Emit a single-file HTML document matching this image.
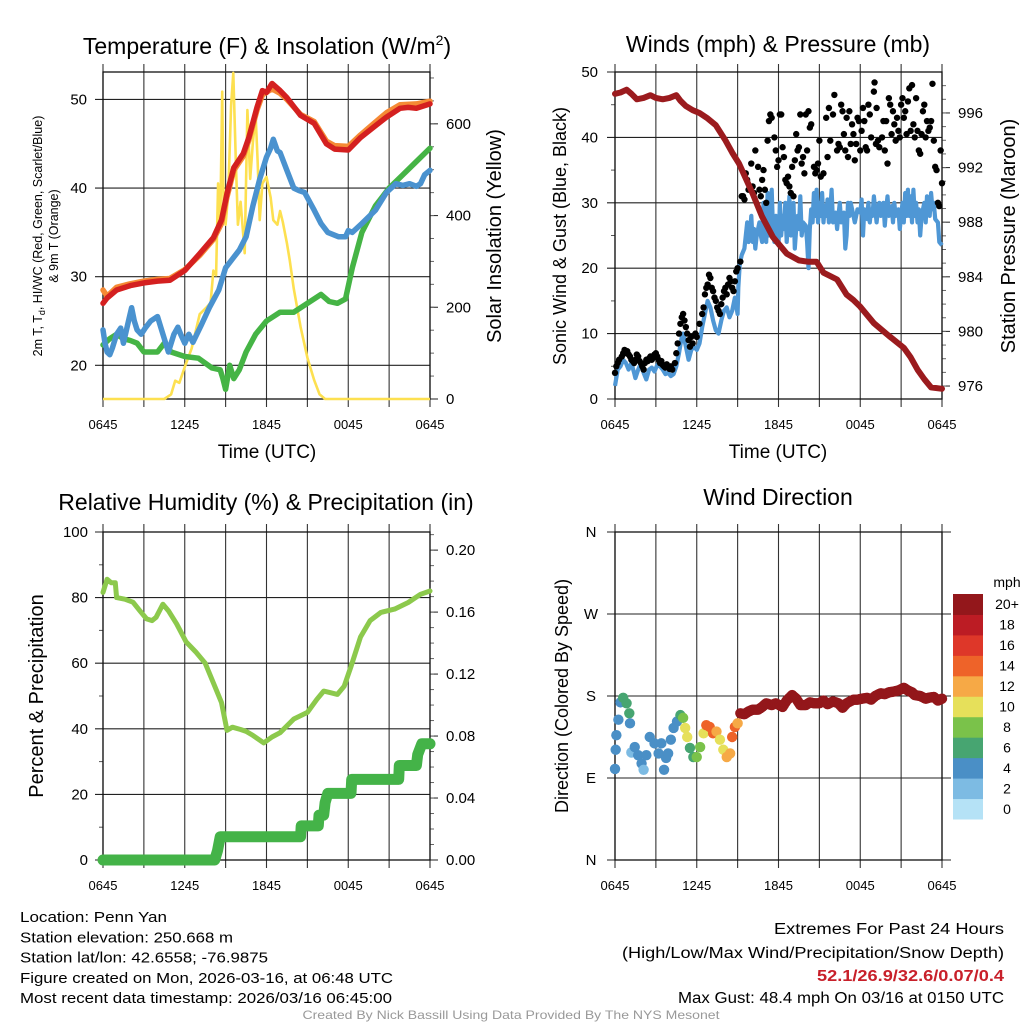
<!DOCTYPE html>
<html><head><meta charset="utf-8"><style>
html,body{margin:0;padding:0;background:#fff;}
svg{display:block;font-family:"Liberation Sans",Arial,sans-serif;}
</style></head><body>
<svg id="chart" width="1024" height="1024" viewBox="0 0 1024 1024" xmlns="http://www.w3.org/2000/svg">
<rect width="1024" height="1024" fill="#fff"/>
</svg>
<script>
// ---------- data ----------
const xTickLabels = ["0645","1245","1845","0045","0645"];
const tempRed = [[0,27.0],[0.3,27.6],[1,28.5],[2,29.0],[3,29.3],[4,29.5],[4.9,29.6],[6,30.7],[7.1,32.6],[8.1,34.4],[8.7,36.4],[9.1,39.4],[9.6,42.3],[10.3,43.9],[10.7,45.7],[11.3,49.1],[11.7,51],[12.0,50.8],[12.4,51.8],[13.0,51.0],[13.5,50.2],[14.5,48.2],[15.5,47.3],[16.4,45.0],[17.0,44.4],[18.0,44.3],[18.9,45.7],[19.8,46.8],[20.8,48.0],[21.8,49.0],[22.4,49.1],[23.0,49.0],[24,49.5]];
const tempOrange = [[0,28.5],[0.3,27.8],[1,28.8],[2,29.2],[3,29.5],[4,29.7],[4.9,29.8],[6,30.8],[7.1,32.4],[8.1,34.2],[8.7,36.0],[9.1,39.0],[9.6,42.0],[10.3,43.6],[10.7,45.4],[11.3,48.8],[11.7,50.5],[12.4,51.2],[13.0,50.7],[13.5,50.0],[14.5,48.3],[15.5,47.5],[16.4,45.3],[17.0,44.8],[18.0,44.7],[18.9,46.0],[19.8,47.2],[20.8,48.5],[21.8,49.4],[23.0,49.5],[24,49.8]];
const tempBlue = [[0,24.0],[0.15,22.5],[0.3,21.5],[0.5,21.2],[0.7,22],[1,23.5],[1.3,24.2],[1.5,22.5],[1.8,24.5],[2.1,26.5],[2.3,25],[2.5,24],[2.8,23.5],[3.1,24.2],[3.5,25],[4,25.5],[4.3,24],[4.8,21.5],[5.2,23.5],[5.5,24.3],[5.7,23.5],[6,22.5],[6.3,23.5],[6.6,22.6],[7.2,24.5],[7.8,26.5],[8.5,28.5],[9,31],[9.5,32],[10,33],[10.5,34.5],[11,38],[11.5,41],[12,43.5],[12.3,44.5],[12.5,45.5],[12.8,44.2],[13,44],[13.5,42],[14,40],[14.4,39.7],[14.8,39.5],[15.5,37.5],[16,36],[16.5,35],[17.3,34.5],[17.8,34.5],[18,35.2],[18.3,35],[19,36],[20,37.5],[20.8,39.5],[21.5,40.5],[22,40.3],[22.5,40.5],[23,40.2],[23.3,40.5],[23.6,41.5],[24,42]];
const tempGreen = [[0,22.3],[0.5,23],[1,23.5],[1.5,23],[2,22.8],[2.5,22.5],[3,21.5],[3.5,21.5],[4,21.5],[4.5,22.5],[5,21.5],[6,21],[7,20.8],[8,19.7],[8.6,19.5],[8.8,18.5],[9,17.3],[9.3,20],[9.6,18.5],[10,19.5],[10.5,21.5],[11.2,23.5],[12,25],[13,26],[14,26],[15,27],[16,28],[16.6,27.2],[17.2,27],[17.8,27.5],[18.3,31],[19,35],[20,38],[21,40],[22,41.5],[23,43],[24,44.5]];
const solar = [[0,0],[4.5,0],[5.0,10],[5.3,40],[5.6,35],[6.0,70],[6.5,110],[7.1,185],[7.6,200],[7.9,210],[8.1,280],[8.3,270],[8.45,470],[8.6,370],[8.75,670],[8.85,420],[9.0,380],[9.2,450],[9.4,640],[9.56,711],[9.75,520],[9.9,380],[10.1,430],[10.4,318],[10.6,630],[10.8,480],[11.0,560],[11.2,620],[11.35,520],[11.5,390],[11.7,470],[12.0,484],[12.3,440],[12.5,390],[12.8,380],[13.0,410],[13.2,386],[13.5,340],[13.7,303],[14.0,240],[14.5,157],[15.0,90],[15.5,41],[15.9,10],[16.3,0],[24,0]];
const windSpeed = [[0,2],[0.2,4.5],[0.4,5],[0.6,6],[0.8,5.5],[1.0,4.5],[1.2,5.5],[1.4,4],[1.5,3.2],[1.7,4.5],[1.9,5.5],[2.1,4],[2.3,3],[2.5,4.5],[2.7,4.8],[2.9,4.2],[3.1,5.2],[3.3,5],[3.5,4.5],[3.7,3.8],[3.9,4],[4.1,3.5],[4.3,3.8],[4.5,5],[4.7,7],[4.9,9.5],[5.0,10],[5.2,8],[5.4,6],[5.6,7.5],[5.8,8],[6.0,7.5],[6.2,8.5],[6.4,11],[6.6,13],[6.8,15],[7.0,14],[7.2,12],[7.4,10.5],[7.6,10],[7.8,12],[8.0,13.5],[8.2,14],[8.4,12.5],[8.6,13.5],[8.8,15.5],[9.0,13],[9.05,17],[9.15,20.5],[9.3,22],[9.5,23],[9.6,25],[9.7,27],[9.8,24],[9.9,25],[10.0,28],[10.1,24],[10.2,26],[10.3,23],[10.4,25],[10.6,27],[10.7,25],[10.8,24],[10.9,30],[11.0,26],[11.1,24],[11.2,31.5],[11.3,25],[11.4,28],[11.5,32],[11.6,26],[11.7,24],[11.8,28],[11.9,25],[12.0,23.5],[12.1,30],[12.2,25],[12.3,28],[12.4,26],[12.5,30],[12.6,24],[12.7,27],[12.8,31],[12.9,25],[13.0,27],[13.1,30],[13.2,23],[13.3,26],[13.4,28],[13.5,26],[13.6,31],[13.7,25],[13.8,27],[14.0,26.5],[14.1,24],[14.2,20],[14.3,26],[14.4,29],[14.5,27],[14.6,31.5],[14.7,28],[14.8,32],[14.9,27],[15.0,30],[15.1,28],[15.2,31.5],[15.3,27],[15.4,29.5],[15.5,28],[15.6,30.5],[15.7,27],[15.8,29],[15.9,32],[16.0,27],[16.2,28.5],[16.3,26],[16.4,28],[16.5,30],[16.6,27],[16.8,28.5],[16.9,23],[17.0,25],[17.1,30],[17.2,28],[17.3,30],[17.4,29],[17.6,27],[17.8,29],[18.0,28.5],[18.1,30.5],[18.2,25],[18.3,29],[18.5,27.5],[18.6,30],[18.7,27],[18.8,29],[18.9,28],[19.0,31],[19.2,27],[19.3,29],[19.4,30],[19.5,28],[19.7,30],[19.8,26.5],[19.9,29],[20.0,31],[20.1,28],[20.3,29.5],[20.4,27],[20.5,30],[20.6,28],[20.8,29],[20.9,26],[21.0,28],[21.1,30],[21.2,27],[21.3,31.5],[21.4,28],[21.5,32],[21.6,28],[21.7,31],[21.8,27],[21.9,32],[22.0,28],[22.1,30],[22.2,27],[22.3,29],[22.4,25],[22.5,28],[22.7,30],[22.8,27],[22.9,31],[23.0,30],[23.1,28],[23.2,31.5],[23.3,29],[23.4,30],[23.5,27.5],[23.7,27],[23.8,24],[24.0,23.5]];
const windGust = [[0,4],[0.1,5],[0.2,5.5],[0.3,6],[0.5,6.5],[0.6,7],[0.7,7.5],[0.8,7],[0.9,7.3],[1.0,6.8],[1.1,6.5],[1.2,6],[1.3,5.8],[1.4,5.5],[1.5,6],[1.6,6.8],[1.7,6.5],[1.8,5.8],[1.9,5.5],[2.0,5],[2.1,4.5],[2.2,5.5],[2.3,6],[2.4,5.8],[2.5,6.2],[2.6,6.5],[2.7,6],[2.8,6.3],[2.9,6.8],[3.0,7],[3.1,6.5],[3.2,6],[3.3,5.5],[3.4,5.8],[3.5,5.2],[3.6,5],[3.7,4.8],[3.8,5.3],[3.9,5],[4.0,4.6],[4.1,5],[4.2,4.5],[4.4,5.5],[4.5,7],[4.6,8.5],[4.7,10],[4.8,11.5],[4.9,12.5],[5.0,13],[5.1,12],[5.2,11],[5.3,10],[5.4,9],[5.5,8],[5.6,9.5],[5.7,8.5],[5.9,10],[6.0,9.5],[6.2,11.5],[6.4,13],[6.5,14],[6.6,16],[6.7,17],[6.8,17.5],[6.9,19],[7.0,18.5],[7.1,17],[7.2,16.5],[7.3,15.5],[7.4,15],[7.5,14],[7.6,13.5],[7.7,13],[7.8,14.5],[7.9,15.5],[8.0,16.5],[8.1,17],[8.2,16],[8.3,17.5],[8.4,18.5],[8.5,18],[8.6,17],[8.7,16.5],[8.8,18],[8.9,19.5],[9.0,20],[9.2,21],[9.3,31],[9.4,31],[9.5,30.5],[9.6,34.5],[9.7,33.5],[9.8,32],[10.0,36],[10.1,32.5],[10.2,31.5],[10.3,38],[10.5,35.5],[10.6,32],[10.7,31],[10.8,33.5],[10.9,35],[11.0,32],[11.1,30],[11.2,39.5],[11.3,42.5],[11.4,43.5],[11.5,43],[11.7,40],[11.8,38],[11.9,35.5],[12.0,36.5],[12.1,43.5],[12.2,43.5],[12.3,38.5],[12.4,37],[12.5,33.5],[12.6,33],[12.7,34],[12.8,32.5],[12.9,31.5],[13.0,35.5],[13.1,31],[13.2,36.5],[13.3,40.5],[13.4,38],[13.5,38.5],[13.6,43.5],[13.7,36],[13.8,37],[13.9,34.5],[14.0,43.5],[14.1,38],[14.2,44],[14.3,41.5],[14.4,42],[14.6,35.5],[14.7,34.5],[14.8,35],[14.9,36],[15.0,39.5],[15.1,34],[15.3,34.5],[15.5,43],[15.6,37],[15.7,44.5],[15.8,39.5],[16.0,43.5],[16.1,46.5],[16.3,38],[16.4,39],[16.5,38.5],[16.6,45],[16.7,44],[16.8,40.5],[16.9,38],[17.0,43],[17.1,37],[17.2,44],[17.3,39],[17.4,42],[17.5,40.5],[17.6,36.5],[17.7,39],[17.8,43],[17.9,42.5],[18.0,38],[18.1,41],[18.2,44.5],[18.3,42.5],[18.4,38.5],[18.5,38],[18.6,45],[18.7,43.5],[18.8,40],[19.05,48.4],[19.0,47],[19.15,39],[19.2,44.5],[19.3,39.5],[19.4,38.5],[19.6,40],[19.7,42.5],[19.8,38],[19.9,42.5],[20.0,36],[20.1,46],[20.2,45],[20.3,40.5],[20.4,44],[20.5,42],[20.6,39.5],[20.7,43],[20.8,41],[20.9,40],[21.0,45],[21.1,46],[21.2,43],[21.3,44],[21.4,40.5],[21.5,45.5],[21.6,47.5],[21.7,41],[21.8,48],[21.9,42],[22.0,40],[22.1,46],[22.2,41],[22.3,38],[22.4,37.5],[22.5,40.5],[22.6,44],[22.7,45],[22.8,40],[22.9,42.5],[23.0,41],[23.1,41.5],[23.2,42.5],[23.3,48.2],[23.4,39.5],[23.5,35.5],[23.6,35],[23.7,30],[23.8,29.5],[23.9,38],[24.0,33]];
const pressure = [[0,997.4],[0.4,997.5],[0.85,997.7],[1.2,997.4],[1.6,997.0],[2.1,997.1],[2.6,997.3],[3.0,997.1],[3.5,997.0],[4.0,997.1],[4.5,997.3],[4.8,996.9],[5.2,996.5],[5.7,996.2],[6.2,996.0],[6.8,995.6],[7.4,995.1],[8.1,994.0],[8.6,993.1],[9.1,992.3],[9.6,991.2],[10.1,990.1],[10.8,988.4],[11.6,986.9],[12.6,985.7],[13.5,985.2],[14.2,985.1],[14.8,985.1],[15.3,984.3],[16.3,983.8],[17.0,982.7],[17.5,982.3],[18.0,981.8],[19.0,980.6],[20.2,979.6],[21.2,978.8],[21.7,978.1],[22.2,977.2],[22.7,976.5],[23.2,975.9],[24,975.8]];
const humidity = [[0,81.6],[0.3,85.6],[0.6,84.5],[0.9,84.5],[1.0,80],[1.6,79.5],[2.2,78.6],[2.7,76],[3.2,73.5],[3.6,73],[3.9,74],[4.4,78],[4.8,76],[5.4,72],[6.1,66.5],[6.8,63.5],[7.5,60],[8.1,54],[8.7,48],[9.1,39.5],[9.5,40.5],[10.1,39.8],[10.5,39.2],[11.0,38],[11.8,35.7],[12.4,37.5],[13.0,38.8],[14.0,43],[15.0,45],[15.7,49],[16.2,51.5],[16.7,51],[17.2,50.5],[17.7,53],[18.2,59],[18.9,68],[19.6,73],[20.4,75.5],[21.4,76.5],[22.4,78.5],[23.3,81],[24,82]];
const precip = [[0,0],[8.2,0],[8.4,0.006],[8.6,0.015],[14.5,0.015],[14.55,0.022],[15.8,0.022],[15.85,0.029],[16.2,0.029],[16.3,0.037],[16.5,0.043],[18.2,0.043],[18.25,0.052],[21.7,0.052],[21.75,0.061],[23.0,0.061],[23.1,0.068],[23.4,0.075],[24,0.075]];
const windDirT = [0,0.05,0.1,0.25,0.4,0.6,0.85,1.05,1.1,1.2,1.45,1.7,1.95,2.1,2.3,2.55,2.9,3.2,3.4,3.6,3.75,3.9,4.1,4.3,4.55,4.8,5.0,5.15,5.3,5.5,5.75,6.0,6.25,6.5,6.7,6.95,7.2,7.45,7.7,7.95,8.2,8.45,8.6,8.8,9.0,9.2,9.5,9.8,10.1,10.5,10.8,11.1,11.5,11.8,12.3,12.6,13.0,13.3,13.6,14.0,14.3,14.6,15.0,15.3,15.6,16.0,16.4,16.7,17.0,17.5,17.8,18.1,18.5,18.8,19.1,19.5,19.8,20.1,20.5,20.8,21.2,21.5,21.8,22.0,22.4,22.8,23.0,23.4,23.7,24.0];
const windDirV = [100,121,137,154,173,178,172,161,150,118,124,115,106,99,115,135,128,117,128,99,112,117,132,145,152,159,156,145,135,123,113,113,124,139,148,146,139,141,132,121,113,117,135,146,150,161,160,163,165,165,168,172,170,172,168,175,181,177,170,170,173,172,172,175,171,174,172,167,172,176,176,177,178,176,180,183,182,184,185,186,189,186,184,181,180,177,178,179,175,177];
const windDirS = [4,4,4,4,4,6,6,6,4,2,4,4,4,2,4,4,4,4,4,4,4,4,4,4,4,6,8,10,10,6,6,8,8,10,14,14,14,12,10,10,12,12,14,14,12,20,20,20,20,20,20,20,20,20,20,20,20,20,20,20,20,20,20,20,20,20,20,20,20,20,20,20,20,20,20,20,20,20,20,20,20,20,20,20,20,20,20,20,20,20];
const colorLevels = ["0","2","4","6","8","10","12","14","16","18","20+"];
const colorFills = ["#b5e2f6","#7dbbe3","#4a8fc6","#47a571","#7ac24a","#e6e05a","#f6a946","#ee6329","#de3729","#bc1c24","#93171b"];

// ---------- helpers ----------
const NS="http://www.w3.org/2000/svg";
const svg=document.getElementById('chart');
function mk(tag,attrs,parent){const e=document.createElementNS(NS,tag);for(const k in attrs)e.setAttribute(k,attrs[k]);(parent||svg).appendChild(e);return e;}
function txt(s,attrs,parent){const e=mk('text',attrs,parent);e.textContent=s;return e;}
function makeX(p){return t=>p.x0+(t/24)*(p.x1-p.x0);}
function makeY(p,lo,hi){return v=>p.y1-(v-lo)/(hi-lo)*(p.y1-p.y0);}
function pathD(pts,X,Y){return pts.map((d,i)=>(i?'L':'M')+X(d[0]).toFixed(1)+','+Y(d[1]).toFixed(1)).join('');}

function frame(p,name,leftTicks,leftLabels,Yl,leftMinor,rightTicks,rightLabels,Yr,rightMinor,showXLabels){
  const g=mk('g',{});
  
  
  const X=makeX(p);
  for(let i=0;i<=8;i++){const x=X(i*3);
    const l=mk('line',{x1:x,x2:x,y1:p.y0-8,y2:p.y1+8,stroke:'#333','stroke-width':1.1},g);
    }
  leftTicks.forEach((v,i)=>{const y=Yl(v);
    const l=mk('line',{x1:p.x0-8,x2:(p.noRight?p.x1+9:p.x1),y1:y,y2:y,stroke:'#222','stroke-width':1.1},g);
    
    const t=txt(leftLabels[i],{x:p.leftLabelX,y:y+5,'font-size':p.tickFont||15,'text-anchor':p.leftAnchor||'end',fill:'#000'},g);
    });
  leftMinor.forEach(v=>{const y=Yl(v);mk('line',{x1:p.x0-4,x2:p.x0,y1:y,y2:y,stroke:'#555','stroke-width':1},g);});
  rightTicks.forEach((v,i)=>{const y=Yr(v);
    mk('line',{x1:p.x1,x2:p.x1+8,y1:y,y2:y,stroke:'#333','stroke-width':1.1},g);
    const t=txt(rightLabels[i],{x:p.x1+16,y:y+5,'font-size':15,fill:'#000'},g);
    });
  rightMinor.forEach(v=>{const y=Yr(v);mk('line',{x1:p.x1,x2:p.x1+4,y1:y,y2:y,stroke:'#666','stroke-width':1},g);});
  mk('rect',{x:p.x0,y:p.y0,width:p.x1-p.x0,height:p.y1-p.y0,fill:'none',stroke:'#111','stroke-width':1.3},g);
  if(showXLabels){xTickLabels.forEach((s,i)=>{const t=txt(s,{x:X(i*6),y:p.y1+30,'font-size':13,'text-anchor':'middle'},g);
    });}
  return X;
}
function range(a,b,s){const r=[];for(let v=a;v<=b+1e-9;v+=s)r.push(+v.toFixed(4));return r;}
function clipFor(p,id){const c=mk('clipPath',{id:id});mk('rect',{x:p.x0,y:p.y0-2,width:p.x1-p.x0,height:p.y1-p.y0+4},c);return 'url(#'+id+')';}

// ---------- Panel 1: temperature ----------
const P1={x0:103,x1:430,y0:72,y1:399,leftLabelX:87};
const Y1=makeY(P1,16.2,53.1), Y1r=makeY(P1,0,713);
const X1=frame(P1,'temperature-panel',[20,30,40,50],['20','30','40','50'],Y1,[],[0,200,400,600],['0','200','400','600'],Y1r,range(50,700,50),true);
const cp1=clipFor(P1,'c1');
let e;
e=mk('path',{d:pathD(solar,X1,Y1r),fill:'none',stroke:'#fde050','stroke-width':2.6,'stroke-linejoin':'round','clip-path':cp1});

e=mk('path',{d:pathD(tempGreen,X1,Y1),fill:'none',stroke:'#45b445','stroke-width':5.5,'stroke-linejoin':'round','stroke-linecap':'round'});

e=mk('path',{d:pathD(tempBlue,X1,Y1),fill:'none',stroke:'#4a92cf','stroke-width':5.5,'stroke-linejoin':'round','stroke-linecap':'round'});

e=mk('path',{d:pathD(tempOrange,X1,Y1),fill:'none',stroke:'#f58a35','stroke-width':5.5,'stroke-linejoin':'round','stroke-linecap':'round'});

e=mk('path',{d:pathD(tempRed,X1,Y1),fill:'none',stroke:'#d42020','stroke-width':5.5,'stroke-linejoin':'round','stroke-linecap':'round'});

e=txt('',{x:267,y:54,'font-size':23,'text-anchor':'middle'});
e.innerHTML='Temperature (F) &amp; Insolation (W/m<tspan dy="-9" font-size="14">2</tspan><tspan dy="9">)</tspan>';

e=txt('Time (UTC)',{x:267,y:458,'font-size':19,'text-anchor':'middle'});

e=txt('',{transform:'translate(42,236) rotate(-90)','font-size':12.5,'text-anchor':'middle'});
e.innerHTML='2m T, T<tspan dy="3" font-size="9">d</tspan><tspan dy="-3">, HI/WC (Red, Green, Scarlet/Blue)</tspan>';

e=txt('& 9m T (Orange)',{transform:'translate(58,236) rotate(-90)','font-size':12.5,'text-anchor':'middle'});

e=txt('Solar Insolation (Yellow)',{transform:'translate(501,236) rotate(-90)','font-size':20,'text-anchor':'middle'});


// ---------- Panel 2: winds & pressure ----------
const P2={x0:615,x1:942,y0:72,y1:399,leftLabelX:598};
const Y2=makeY(P2,0,50), Y2r=makeY(P2,975.05,999);
const X2=frame(P2,'winds-panel',[0,10,20,30,40,50],['0','10','20','30','40','50'],Y2,range(5,45,10),[976,980,984,988,992,996],['976','980','984','988','992','996'],Y2r,range(976,998,1),true);
e=mk('path',{d:pathD(windSpeed,X2,Y2),fill:'none',stroke:'#4f97d5','stroke-width':4.2,'stroke-linejoin':'round'});

const gG=mk('g',{});
windGust.forEach(d=>{const c=mk('circle',{cx:X2(d[0]),cy:Y2(d[1]),r:3.2,fill:'#000'},gG);
  });
e=mk('path',{d:pathD(pressure,X2,Y2r),fill:'none',stroke:'#9b1b1e','stroke-width':6,'stroke-linejoin':'round','stroke-linecap':'round'});

e=txt('Winds (mph) & Pressure (mb)',{x:778,y:52,'font-size':23,'text-anchor':'middle'});

e=txt('Time (UTC)',{x:778,y:458,'font-size':19,'text-anchor':'middle'});

e=txt('Sonic Wind & Gust (Blue, Black)',{transform:'translate(566,236) rotate(-90)','font-size':18,'text-anchor':'middle'});

e=txt('Station Pressure (Maroon)',{transform:'translate(1015,236) rotate(-90)','font-size':20,'text-anchor':'middle'});


// ---------- Panel 3: RH & precip ----------
const P3={x0:103,x1:430,y0:532,y1:860,leftLabelX:88};
const Y3=makeY(P3,0,100), Y3r=makeY(P3,0,0.2117);
const X3=frame(P3,'humidity-panel',[0,20,40,60,80,100],['0','20','40','60','80','100'],Y3,range(10,90,20),[0,0.04,0.08,0.12,0.16,0.20],['0.00','0.04','0.08','0.12','0.16','0.20'],Y3r,range(0.01,0.21,0.01),true);
e=mk('path',{d:pathD(precip,X3,Y3r),fill:'none',stroke:'#44b348','stroke-width':11,'stroke-linejoin':'round','stroke-linecap':'round'});

e=mk('path',{d:pathD(humidity,X3,Y3),fill:'none',stroke:'#8cc94c','stroke-width':5,'stroke-linejoin':'round','stroke-linecap':'round'});

e=txt('Relative Humidity (%) & Precipitation (in)',{x:266,y:510,'font-size':23,'text-anchor':'middle'});

e=txt('Percent & Precipitation',{transform:'translate(43,696) rotate(-90)','font-size':20,'text-anchor':'middle'});


// ---------- Panel 4: wind direction ----------
const P4={x0:615,x1:942,y0:532,y1:860,leftLabelX:591,leftAnchor:'middle',noRight:true};
const Y4=makeY(P4,0,360);
const X4=frame(P4,'direction-panel',[0,90,180,270,360],['N','E','S','W','N'],Y4,[],[],[],Y4,[],true);
const gD=mk('g',{});
windDirT.forEach((t,i)=>{const lvl=Math.min(10,Math.round(windDirS[i]/2));
  const c=mk('circle',{cx:X4(t),cy:Y4(windDirV[i]),r:5.2,fill:colorFills[lvl]},gD);
  
  if(i<windDirT.length-1&&windDirS[i]>=20){const t2=windDirT[i+1],v2=windDirV[i+1];
    for(let k=1;k<4;k++){const f=k/4;const c2=mk('circle',{cx:X4(t+(t2-t)*f),cy:Y4(windDirV[i]+(v2-windDirV[i])*f),r:5.2,fill:colorFills[lvl]},gD);
      }}});
e=txt('Wind Direction',{x:778,y:505,'font-size':23,'text-anchor':'middle'});

e=txt('Direction (Colored By Speed)',{transform:'translate(568,696) rotate(-90)','font-size':18,'text-anchor':'middle'});

const gL=mk('g',{});
e=txt('mph',{x:1007,y:587,'font-size':14,'text-anchor':'middle'},gL);

const bh=(819-594)/11;
colorLevels.forEach((s,i)=>{const y=594+(10-i)*bh;
  const r=mk('rect',{x:953,y:y,width:30,height:bh+0.5,fill:colorFills[i]},gL);
  
  const t=txt(s,{x:1007,y:y+bh/2+5,'font-size':14,'text-anchor':'middle'},gL);
  });

// ---------- footer ----------
const leftLines=["Location: Penn Yan","Station elevation: 250.668 m","Station lat/lon: 42.6558; -76.9875","Figure created on Mon, 2026-03-16, at 06:48 UTC","Most recent data timestamp: 2026/03/16 06:45:00"];
const leftW=[147,213,248,373,372];
leftLines.forEach((s,i)=>{const t=txt(s,{x:20,y:922+i*20.3,'font-size':15,textLength:leftW[i],lengthAdjust:'spacingAndGlyphs'});
  });
e=txt('Extremes For Past 24 Hours',{x:1004,y:934,'font-size':15.5,'text-anchor':'end',textLength:230,lengthAdjust:'spacingAndGlyphs'});

e=txt('(High/Low/Max Wind/Precipitation/Snow Depth)',{x:1004,y:958,'font-size':15.5,'text-anchor':'end',textLength:382,lengthAdjust:'spacingAndGlyphs'});

e=txt('52.1/26.9/32.6/0.07/0.4',{x:1004,y:981,'font-size':15.5,'font-weight':'bold',fill:'#c8202a','text-anchor':'end',textLength:187,lengthAdjust:'spacingAndGlyphs'});

e=txt('Max Gust: 48.4 mph On 03/16 at 0150 UTC',{x:1004,y:1003,'font-size':15.5,'text-anchor':'end',textLength:326,lengthAdjust:'spacingAndGlyphs'});

e=txt('Created By Nick Bassill Using Data Provided By The NYS Mesonet',{x:511,y:1019,'font-size':12,fill:'#999','text-anchor':'middle',textLength:417,lengthAdjust:'spacingAndGlyphs'});

</script>
</body></html>
